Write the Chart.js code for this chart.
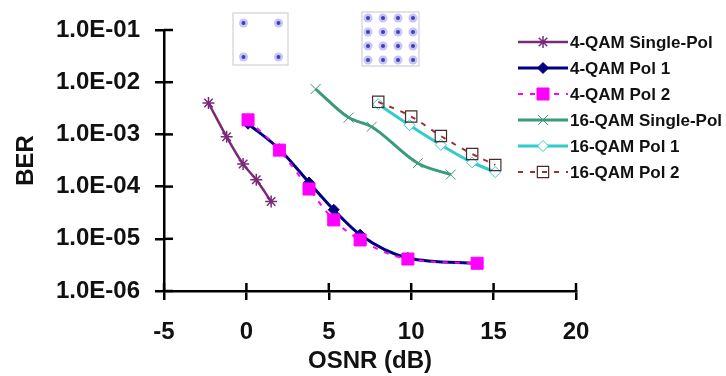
<!DOCTYPE html>
<html>
<head>
<meta charset="utf-8">
<script src="https://cdn.jsdelivr.net/npm/chart.js@4.4.0/dist/chart.umd.min.js"></script>
<style>
  html, body { margin: 0; padding: 0; background: #fff; }
  #wrap { width: 726px; height: 376px; }
</style>
</head>
<body>
<div id="wrap"><canvas id="berChart" width="726" height="376"></canvas></div>
<script>
// ==================== DATA ====================
const qam4SingleOsnr = [-2.3, -1.2, -0.2, 0.6, 1.5];
const qam4SingleBer  = [4.0e-3, 9.0e-4, 2.7e-4, 1.35e-4, 5.2e-5];

const qam4Pol1Osnr = [0.1, 2.0, 3.8, 5.3, 6.9, 9.8, 14.0];
const qam4Pol1Ber  = [1.6e-3, 5.2e-4, 1.2e-4, 3.6e-5, 1.2e-5, 4.3e-6, 3.4e-6];

const qam4Pol2Osnr = [0.1, 2.0, 3.8, 5.3, 6.9, 9.8, 14.0];
const qam4Pol2Ber  = [1.9e-3, 5.0e-4, 9.0e-5, 2.3e-5, 9.5e-6, 4.1e-6, 3.4e-6];

const qam16SingleOsnr = [4.2, 6.2, 7.6, 10.4, 12.4];
const qam16SingleBer  = [7.4e-3, 2.1e-3, 1.4e-3, 2.8e-4, 1.7e-4];

const qam16Pol1Osnr = [8.0, 9.9, 11.8, 13.7, 15.1];
const qam16Pol1Ber  = [3.8e-3, 1.5e-3, 6.3e-4, 2.9e-4, 1.9e-4];

const qam16Pol2Osnr = [8.0, 10.0, 11.8, 13.7, 15.1];
const qam16Pol2Ber  = [4.2e-3, 2.2e-3, 9.3e-4, 4.2e-4, 2.6e-4];

const xTickValues = [-5, 0, 5, 10, 15, 20];
const yTickValues = [1e-6, 1e-5, 1e-4, 1e-3, 1e-2, 1e-1];
const yTickLabels = ["1.0E-06", "1.0E-05", "1.0E-04", "1.0E-03", "1.0E-02", "1.0E-01"];

// constellation insets (I/Q symbol positions)
const qpskPoints = [[-1, 1], [1, 1], [-1, -1], [1, -1]];
const qam16Levels = [-3, -1, 1, 3];

const FONT = '"Liberation Sans", Arial, sans-serif';

function toPoints(xs, ys) {
  return xs.map((x, i) => ({ x: x, y: ys[i] }));
}

// ==================== PLUGINS ====================
// tick marks crossing into the plot area
const innerTicks = {
  id: 'innerTicks',
  afterDraw(chart) {
    const ctx = chart.ctx;
    const xs = chart.scales.x, ys = chart.scales.y;
    const area = chart.chartArea;
    ctx.save();
    ctx.strokeStyle = '#000';
    ctx.lineWidth = 2.5;
    xTickValues.forEach(v => {
      const px = xs.getPixelForValue(v);
      ctx.beginPath();
      ctx.moveTo(px, area.bottom);
      ctx.lineTo(px, area.bottom - 8);
      ctx.stroke();
    });
    yTickValues.forEach(v => {
      const py = ys.getPixelForValue(v);
      ctx.beginPath();
      ctx.moveTo(area.left, py);
      ctx.lineTo(area.left + 9, py);
      ctx.stroke();
    });
    ctx.restore();
  }
};

// small constellation pictures above the curves
const insets = {
  id: 'insets',
  beforeDatasetsDraw(chart) {
    const ctx = chart.ctx;
    ctx.save();
    function box(x, y, w, h) {
      ctx.strokeStyle = '#c8c8d0';
      ctx.lineWidth = 1;
      ctx.strokeRect(x, y, w, h);
    }
    function blob(x, y) {
      ctx.fillStyle = 'rgba(90,90,230,0.35)';
      ctx.beginPath(); ctx.arc(x, y, 4.5, 0, Math.PI * 2); ctx.fill();
      ctx.fillStyle = 'rgba(40,40,170,0.85)';
      ctx.beginPath(); ctx.arc(x, y, 2, 0, Math.PI * 2); ctx.fill();
    }
    box(233, 13, 55, 52);
    qpskPoints.forEach(p => blob(261 + p[0] * 17.5, 40 - p[1] * 17));
    box(362, 12, 57, 54);
    qam16Levels.forEach(i => qam16Levels.forEach(q => blob(390.5 + i * 7.5, 39 - q * 7)));
    ctx.restore();
  }
};

// legend on the right: line sample + marker + label
const sideLegend = {
  id: 'sideLegend',
  afterDraw(chart) {
    const ctx = chart.ctx;
    ctx.save();
    chart.data.datasets.forEach((ds, i) => {
      const y = 42 + i * 26;
      ctx.strokeStyle = ds.borderColor;
      ctx.lineWidth = ds.borderWidth;
      ctx.setLineDash(ds.borderDash || []);
      ctx.beginPath();
      ctx.moveTo(518, y);
      ctx.lineTo(568, y);
      ctx.stroke();
      ctx.setLineDash([]);
      ctx.fillStyle = ds.pointBackgroundColor;
      ctx.strokeStyle = ds.pointBorderColor;
      ctx.lineWidth = ds.pointBorderWidth;
      Chart.helpers.drawPoint(ctx, {
        pointStyle: ds.pointStyle,
        radius: ds.pointRadius,
        borderWidth: ds.pointBorderWidth,
        rotation: 0
      }, 543, y);
      ctx.fillStyle = '#111';
      ctx.font = 'bold 17px ' + FONT;
      ctx.textBaseline = 'middle';
      ctx.textAlign = 'left';
      ctx.fillText(ds.label, 570, y + 1);
    });
    ctx.restore();
  }
};

// ==================== CHART ====================
const berChart = new Chart(document.getElementById('berChart'), {
  type: 'line',
  data: {
    datasets: [{
      label: '4-QAM Single-Pol',
      data: toPoints(qam4SingleOsnr, qam4SingleBer),
      borderColor: '#7a2a78',
      borderWidth: 2.5,
      pointStyle: 'star',
      pointRadius: 6,
      pointBorderWidth: 1.5,
      pointBorderColor: '#7a2a78',
      pointBackgroundColor: '#7a2a78',
      order: 3
    }, {
      label: '4-QAM Pol 1',
      data: toPoints(qam4Pol1Osnr, qam4Pol1Ber),
      borderColor: '#000080',
      borderWidth: 3,
      pointStyle: 'rectRot',
      pointRadius: 5.5,
      pointBorderWidth: 1,
      pointBorderColor: '#000080',
      pointBackgroundColor: '#000080',
      order: 2
    }, {
      label: '4-QAM Pol 2',
      data: toPoints(qam4Pol2Osnr, qam4Pol2Ber),
      borderColor: '#ff00ff',
      borderWidth: 2,
      borderDash: [5, 7],
      pointStyle: 'rect',
      pointRadius: 8.5,
      pointBorderWidth: 1,
      pointBorderColor: '#ff00ff',
      pointBackgroundColor: '#ff00ff',
      order: 1
    }, {
      label: '16-QAM Single-Pol',
      data: toPoints(qam16SingleOsnr, qam16SingleBer),
      borderColor: '#3a9a7c',
      borderWidth: 3,
      pointStyle: 'crossRot',
      pointRadius: 7,
      pointBorderWidth: 1,
      pointBorderColor: '#3a9a7c',
      pointBackgroundColor: '#3a9a7c',
      order: 6
    }, {
      label: '16-QAM Pol 1',
      data: toPoints(qam16Pol1Osnr, qam16Pol1Ber),
      borderColor: '#33cccc',
      borderWidth: 3,
      pointStyle: 'rectRot',
      pointRadius: 5.5,
      pointBorderWidth: 1,
      pointBorderColor: '#33cccc',
      pointBackgroundColor: '#ffffff',
      order: 5
    }, {
      label: '16-QAM Pol 2',
      data: toPoints(qam16Pol2Osnr, qam16Pol2Ber),
      borderColor: '#993333',
      borderWidth: 2,
      borderDash: [5, 7],
      pointStyle: 'rect',
      pointRadius: 8,
      pointBorderWidth: 1.2,
      pointBorderColor: '#4a2a2a',
      pointBackgroundColor: 'rgba(255,255,255,0)',
      order: 4
    }]
  },
  options: {
    responsive: false,
    animation: false,
    layout: { padding: { left: 0, right: 150, top: 30, bottom: 0 } },
    plugins: {
      legend: { display: false },
      tooltip: { enabled: false }
    },
    datasets: { line: { cubicInterpolationMode: 'monotone', fill: false } },
    scales: {
      x: {
        type: 'linear',
        min: -5,
        max: 20,
        afterBuildTicks: s => { s.ticks = xTickValues.map(v => ({ value: v })); },
        afterFit: s => { s.height = 85; },
        border: { display: true, color: '#000', width: 2.5 },
        grid: { drawOnChartArea: false, color: '#000', lineWidth: 2.5, tickLength: 9 },
        ticks: { color: '#111', padding: 18, font: { family: FONT, size: 24, weight: 'bold' } },
        title: {
          display: true,
          text: 'OSNR (dB)',
          color: '#111',
          padding: { top: 0, bottom: 0 },
          font: { family: FONT, size: 24, weight: 'bold' }
        }
      },
      y: {
        type: 'logarithmic',
        min: 1e-6,
        max: 1e-1,
        afterBuildTicks: s => { s.ticks = yTickValues.map(v => ({ value: v })); },
        afterFit: s => { s.width = 164; },
        border: { display: true, color: '#000', width: 2.5 },
        grid: { drawOnChartArea: false, color: '#000', lineWidth: 2.5, tickLength: 9 },
        ticks: {
          color: '#111',
          padding: 15,
          font: { family: FONT, size: 24, weight: 'bold' },
          callback: (v) => yTickLabels[yTickValues.indexOf(v)]
        },
        title: {
          display: true,
          text: 'BER',
          color: '#111',
          padding: { top: 12, bottom: 0 },
          font: { family: FONT, size: 24, weight: 'bold' }
        }
      }
    }
  },
  plugins: [insets, innerTicks, sideLegend]
});
</script>
</body>
</html>
